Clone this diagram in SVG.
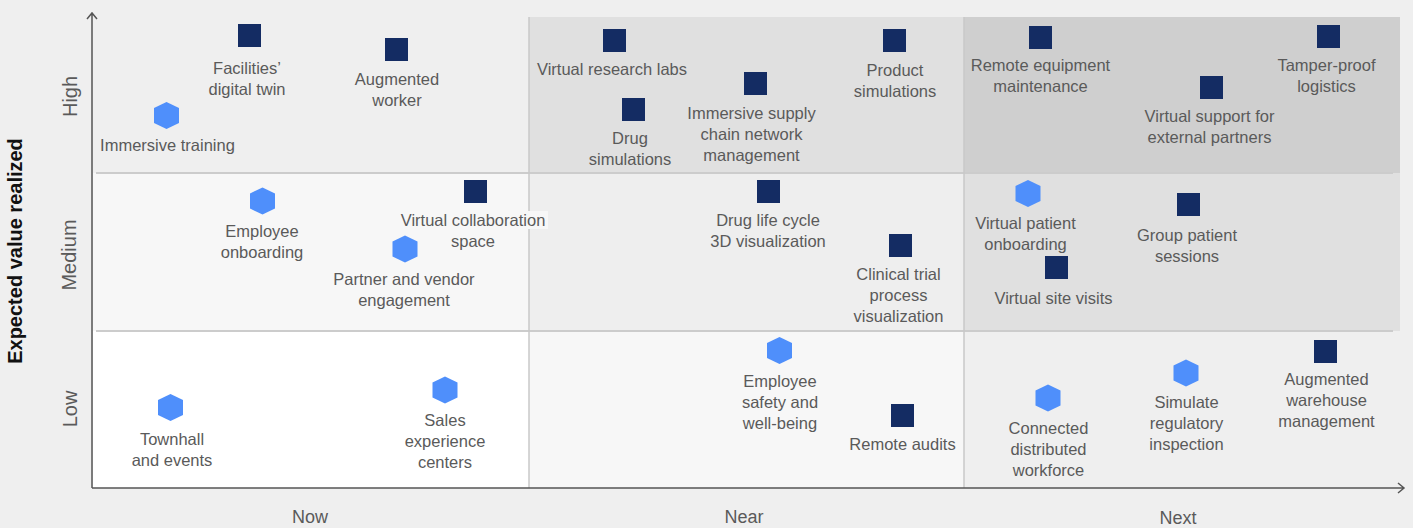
<svg xmlns="http://www.w3.org/2000/svg" xmlns:xlink="http://www.w3.org/1999/xlink" width="1413" height="528" viewBox="0 0 1413 528">
<style>
.lbl{font-family:"Liberation Sans",Arial,Helvetica,sans-serif;font-size:16.5px;fill:#5a5a5a;text-anchor:middle}
.ax{font-family:"Liberation Sans",Arial,Helvetica,sans-serif;font-size:20px;fill:#5a5a5a;text-anchor:middle}
.axt{font-family:"Liberation Sans",Arial,Helvetica,sans-serif;font-size:20px;font-weight:bold;fill:#111111;text-anchor:middle}
.sq{fill:#142c63}
.hx{fill:#4f8ffb}
.div{stroke:#cccccc;stroke-width:2;fill:none}
.vdiv{stroke:#c8c8c8;stroke-width:1.5;fill:none}
.axis{stroke:#555555;stroke-width:1.5;fill:none}
</style>
<defs>
<polygon id="hex" points="0,-13.5 12.5,-7.5 12.5,7.5 0,13.5 -12.5,7.5 -12.5,-7.5"/>
</defs>
<rect x="0" y="0" width="1413" height="528" fill="#efefef"/>
<g id="grid">
<rect x="93" y="17" width="436" height="156" fill="#efefef"/>
<rect x="93" y="173" width="436" height="158" fill="#f7f7f7"/>
<rect x="93" y="331" width="436" height="157" fill="#ffffff"/>
<rect x="529" y="17" width="435" height="156" fill="#e0e0e0"/>
<rect x="529" y="173" width="435" height="158" fill="#eeeeee"/>
<rect x="529" y="331" width="435" height="157" fill="#f7f7f7"/>
<rect x="964" y="17" width="436" height="156" fill="#cfcfcf"/>
<rect x="964" y="173" width="436" height="158" fill="#e0e0e0"/>
<rect x="964" y="331" width="436" height="157" fill="#efefef"/>
<line class="div" x1="96" y1="173" x2="1393" y2="173"/>
<line class="div" x1="96" y1="331" x2="1393" y2="331"/>
<line class="vdiv" x1="529" y1="17" x2="529" y2="488"/>
<line class="vdiv" x1="964" y1="17" x2="964" y2="488"/>
</g>
<g id="axes">
<path class="axis" d="M92,488 V13 M87,19 L92,13 L97,19"/>
<path class="axis" d="M92,488 H1404 M1398,483 L1404,488 L1398,493"/>
<text class="axt" transform="translate(21.5,251) rotate(-90)">Expected value realized</text>
<text class="ax" transform="translate(77,96.5) rotate(-90)">High</text>
<text class="ax" transform="translate(76,255) rotate(-90)">Medium</text>
<text class="ax" transform="translate(77,409) rotate(-90)">Low</text>
<text class="ax" style="font-size:18px" x="310" y="523">Now</text>
<text class="ax" style="font-size:18px" x="744" y="523">Near</text>
<text class="ax" style="font-size:18px" x="1178" y="524">Next</text>
</g>
<g id="connectors"></g>
<g id="facilities-digital-twin"><rect class="sq" x="238" y="24" width="23" height="23"/><text class="lbl" x="247" y="73.5">Facilities’<tspan x="247" dy="21">digital twin</tspan></text></g>
<g id="augmented-worker"><rect class="sq" x="385" y="38" width="23" height="23"/><text class="lbl" x="397" y="84.5">Augmented<tspan x="397" dy="21">worker</tspan></text></g>
<g id="immersive-training"><use href="#hex" xlink:href="#hex" class="hx" x="166.5" y="115.5"/><text class="lbl" x="167.5" y="151">Immersive training</text></g>
<g id="virtual-research-labs"><rect class="sq" x="603" y="29" width="23" height="23"/><text class="lbl" x="612" y="75">Virtual research labs</text></g>
<g id="drug-simulations"><rect class="sq" x="622" y="98" width="23" height="23"/><text class="lbl" x="630" y="143.5">Drug<tspan x="630" dy="21">simulations</tspan></text></g>
<g id="immersive-supply-chain"><rect class="sq" x="744" y="72" width="23" height="23"/><text class="lbl" x="751.5" y="118.5">Immersive supply<tspan x="751.5" dy="21">chain network</tspan><tspan x="751.5" dy="21">management</tspan></text></g>
<g id="product-simulations"><rect class="sq" x="883" y="29" width="23" height="23"/><text class="lbl" x="895" y="75.5">Product<tspan x="895" dy="21">simulations</tspan></text></g>
<g id="remote-equipment-maintenance"><rect class="sq" x="1029" y="26" width="23" height="23"/><text class="lbl" x="1040.5" y="70.5">Remote equipment<tspan x="1040.5" dy="21">maintenance</tspan></text></g>
<g id="virtual-support"><rect class="sq" x="1200" y="76" width="23" height="23"/><text class="lbl" x="1209.5" y="121.5">Virtual support for<tspan x="1209.5" dy="21">external partners</tspan></text></g>
<g id="tamper-proof-logistics"><rect class="sq" x="1317" y="25" width="23" height="23"/><text class="lbl" x="1326.5" y="70.5">Tamper-proof<tspan x="1326.5" dy="21">logistics</tspan></text></g>
<g id="employee-onboarding"><use href="#hex" xlink:href="#hex" class="hx" x="262.5" y="201"/><text class="lbl" x="262" y="237">Employee<tspan x="262" dy="21">onboarding</tspan></text></g>
<g id="virtual-collaboration-space"><rect class="sq" x="464" y="180" width="23" height="23"/><rect x="398" y="211" width="150" height="18" fill="#f7f7f7"/><text class="lbl" x="473" y="225.5">Virtual collaboration<tspan x="473" dy="21">space</tspan></text></g>
<g id="partner-vendor-engagement"><use href="#hex" xlink:href="#hex" class="hx" x="405" y="249"/><text class="lbl" x="404" y="284.5">Partner and vendor<tspan x="404" dy="21">engagement</tspan></text></g>
<g id="drug-life-cycle"><rect class="sq" x="757" y="180" width="23" height="23"/><text class="lbl" x="768" y="226">Drug life cycle<tspan x="768" dy="21">3D visualization</tspan></text></g>
<g id="clinical-trial"><rect class="sq" x="889" y="234" width="23" height="23"/><text class="lbl" x="898.5" y="279.5">Clinical trial<tspan x="898.5" dy="21">process</tspan><tspan x="898.5" dy="21">visualization</tspan></text></g>
<g id="virtual-patient-onboarding"><use href="#hex" xlink:href="#hex" class="hx" x="1028" y="193.5"/><text class="lbl" x="1025.5" y="229">Virtual patient<tspan x="1025.5" dy="21">onboarding</tspan></text></g>
<g id="group-patient-sessions"><rect class="sq" x="1177" y="193" width="23" height="23"/><text class="lbl" x="1187" y="241">Group patient<tspan x="1187" dy="21">sessions</tspan></text></g>
<g id="virtual-site-visits"><rect class="sq" x="1045" y="256" width="23" height="23"/><text class="lbl" x="1053.5" y="303.5">Virtual site visits</text></g>
<g id="townhall-events"><use href="#hex" xlink:href="#hex" class="hx" x="170.5" y="407.5"/><text class="lbl" x="172" y="444.5">Townhall<tspan x="172" dy="21">and events</tspan></text></g>
<g id="sales-experience-centers"><use href="#hex" xlink:href="#hex" class="hx" x="445" y="390"/><text class="lbl" x="445" y="426">Sales<tspan x="445" dy="21">experience</tspan><tspan x="445" dy="21">centers</tspan></text></g>
<g id="employee-safety"><use href="#hex" xlink:href="#hex" class="hx" x="779.5" y="350.5"/><text class="lbl" x="780" y="387">Employee<tspan x="780" dy="21">safety and</tspan><tspan x="780" dy="21">well-being</tspan></text></g>
<g id="remote-audits"><rect class="sq" x="891" y="404" width="23" height="23"/><text class="lbl" x="902.5" y="449.5">Remote audits</text></g>
<g id="connected-workforce"><use href="#hex" xlink:href="#hex" class="hx" x="1048" y="398"/><text class="lbl" x="1048.5" y="434">Connected<tspan x="1048.5" dy="21">distributed</tspan><tspan x="1048.5" dy="21">workforce</tspan></text></g>
<g id="simulate-regulatory-inspection"><use href="#hex" xlink:href="#hex" class="hx" x="1186" y="373"/><text class="lbl" x="1186.5" y="408">Simulate<tspan x="1186.5" dy="21">regulatory</tspan><tspan x="1186.5" dy="21">inspection</tspan></text></g>
<g id="augmented-warehouse"><rect class="sq" x="1314" y="340" width="23" height="23"/><text class="lbl" x="1326.5" y="385">Augmented<tspan x="1326.5" dy="21">warehouse</tspan><tspan x="1326.5" dy="21">management</tspan></text></g>
</svg>
